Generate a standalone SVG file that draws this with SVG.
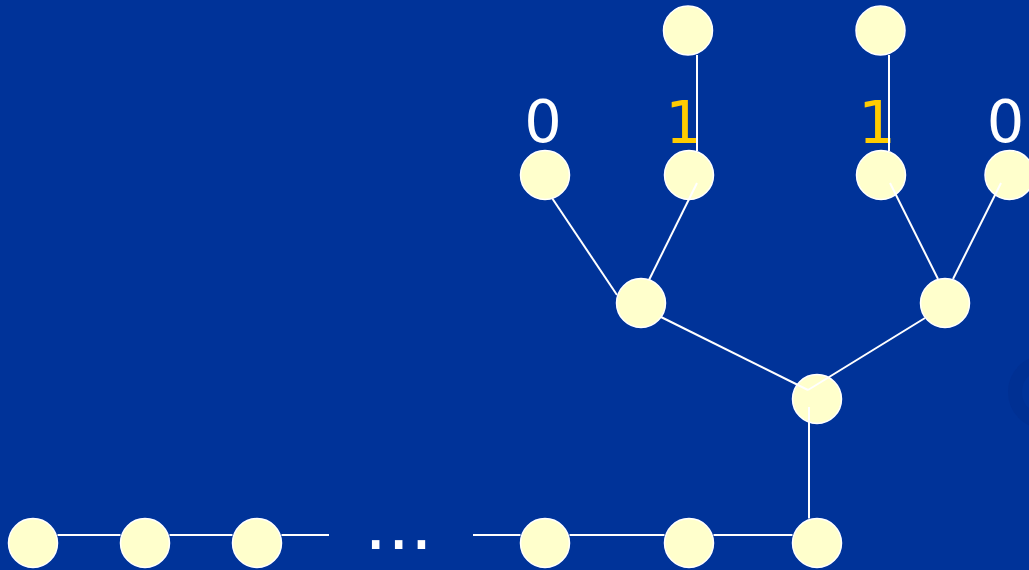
<svg xmlns="http://www.w3.org/2000/svg" width="1029" height="570" viewBox="0 0 1029 570">
<style>
.n{fill:#ffffcc;stroke:#ffffff;stroke-width:1.5}
.c line{stroke:#ffffff;stroke-width:2}
.t{font-family:"DejaVu Sans","Liberation Sans",sans-serif;font-size:59px;text-anchor:middle}
.w{fill:#ffffff}
.y{fill:#ffcc00}
</style>
<rect width="1029" height="570" fill="#003399"/>
<circle cx="1045" cy="392" r="30" fill="none" stroke="#002d8c" stroke-opacity="0.45" stroke-width="14"/>
<g id="nodes">
<g id="a1"><circle class="n" cx="688" cy="30.5" r="24.5"/></g>
<g id="a2"><circle class="n" cx="880.5" cy="30.5" r="24.5"/></g>
<g id="b1"><circle class="n" cx="545" cy="175" r="24.5"/></g>
<g id="b2"><circle class="n" cx="689" cy="175" r="24.5"/></g>
<g id="b3"><circle class="n" cx="881" cy="175" r="24.5"/></g>
<g id="b4"><circle class="n" cx="1009.5" cy="175" r="24.5"/></g>
<g id="c1"><circle class="n" cx="641" cy="303" r="24.5"/></g>
<g id="c2"><circle class="n" cx="945" cy="303" r="24.5"/></g>
<g id="d"><circle class="n" cx="817" cy="399" r="24.5"/></g>
<g id="e1"><circle class="n" cx="33" cy="543" r="24.5"/></g>
<g id="e2"><circle class="n" cx="145" cy="543" r="24.5"/></g>
<g id="e3"><circle class="n" cx="257" cy="543" r="24.5"/></g>
<g id="e4"><circle class="n" cx="545" cy="543" r="24.5"/></g>
<g id="e5"><circle class="n" cx="689" cy="543" r="24.5"/></g>
<g id="e6"><circle class="n" cx="817" cy="543" r="24.5"/></g>
</g>
<g id="labels">
<text class="t w" x="543" y="142">0</text>
<text class="t y" x="684" y="143">1</text>
<text class="t y" x="877" y="143">1</text>
<text class="t w" x="1005.5" y="142">0</text>
<text x="364.3" y="549" font-family="DejaVu Sans, sans-serif" font-size="72" fill="#ffffff">...</text>
</g>
<g id="connectors" class="c">
<line x1="697" y1="55" x2="697" y2="151"/>
<line x1="889" y1="55" x2="889" y2="151"/>
<line x1="552" y1="198" x2="617" y2="295"/>
<line x1="697" y1="183" x2="649" y2="280"/>
<line x1="890" y1="183" x2="938" y2="279"/>
<line x1="1001" y1="183" x2="953" y2="279"/>
<line x1="661" y1="317" x2="808" y2="390"/>
<line x1="925" y1="318" x2="808" y2="390"/>
<line x1="809" y1="407" x2="809" y2="518.5"/>
<line x1="57.5" y1="535" x2="120.5" y2="535"/>
<line x1="169.5" y1="535" x2="232.5" y2="535"/>
<line x1="281.5" y1="535" x2="329" y2="535"/>
<line x1="473" y1="535" x2="520.5" y2="535"/>
<line x1="569.5" y1="535" x2="664.5" y2="535"/>
<line x1="713.5" y1="535" x2="792.5" y2="535"/>
</g>
</svg>
